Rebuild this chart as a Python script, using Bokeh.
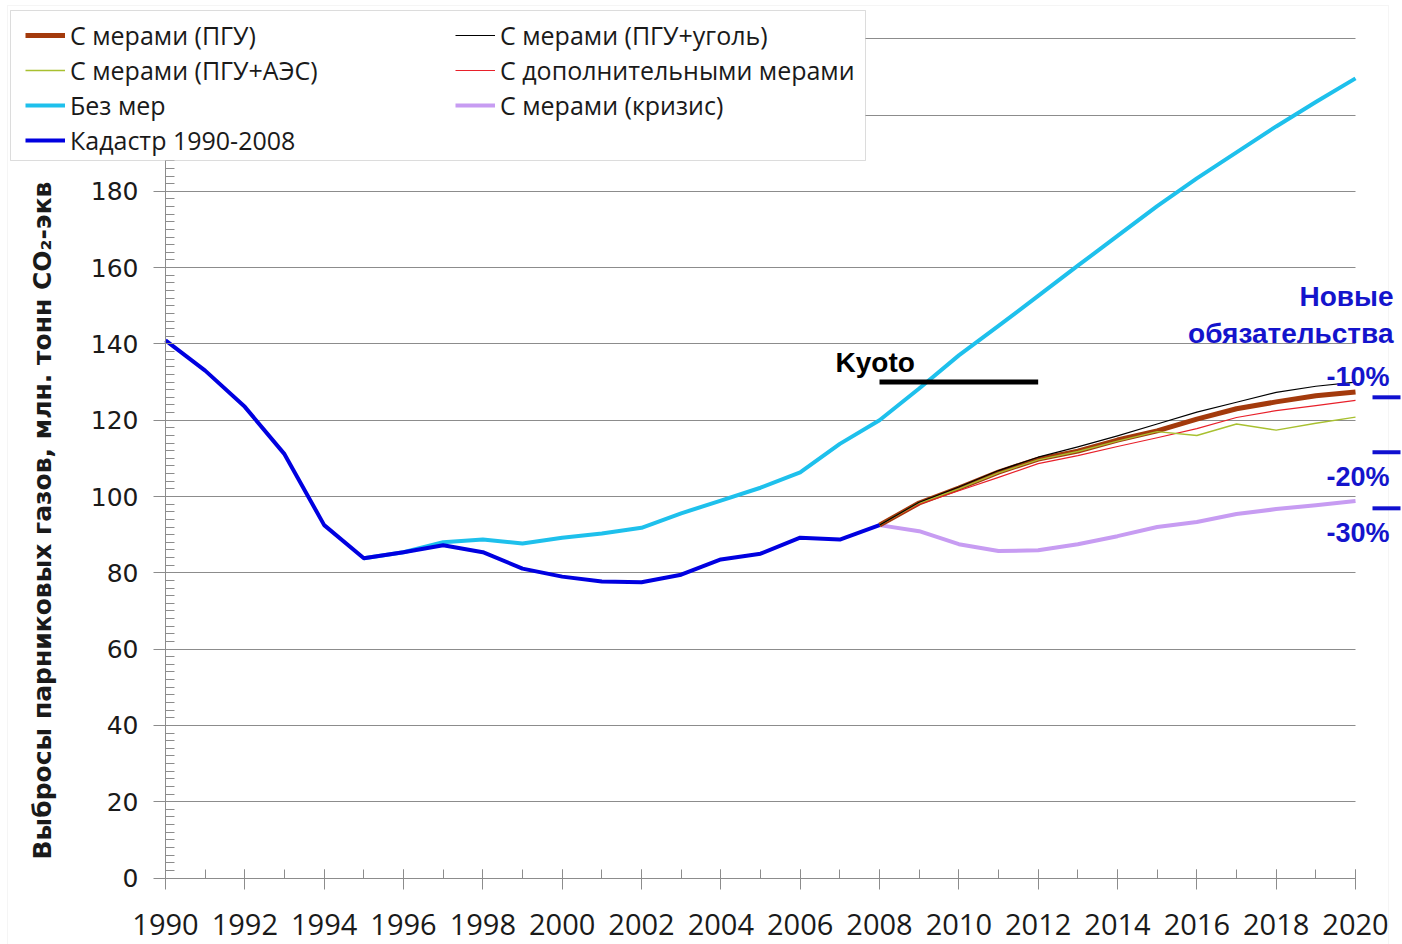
import math
from bokeh.plotting import figure
from bokeh.models import (Range1d, Legend, LegendItem, Label, BoxAnnotation,
                          SingleIntervalTicker)
from bokeh.embed import file_html
from bokeh.resources import INLINE

# ---------------- data ----------------
years_hist = list(range(1990, 2009))
cadastre = [140.9, 133.0, 123.5, 111.1, 92.5, 83.8, 85.4, 87.2, 85.4, 81.1,
            79.0, 77.7, 77.5, 79.5, 83.5, 85.0, 89.2, 88.7, 92.5]

years_no = list(range(1995, 2021))
no_measures = [83.8, 85.4, 88.0, 88.7, 87.7, 89.2, 90.3, 91.8, 95.6, 98.9,
               102.3, 106.3, 113.8, 120.0, 128.3, 137.0, 144.7, 152.6, 160.5,
               168.3, 176.1, 183.4, 190.2, 197.0, 203.4, 209.6]

years_proj = list(range(2008, 2021))
pgu = [92.5, 98.3, 102.2, 106.4, 109.8, 111.9, 114.8, 117.2, 120.3, 123.0,
       124.8, 126.4, 127.4]
pgu_coal = [92.5, 98.5, 102.5, 106.8, 110.3, 113.0, 115.9, 119.0, 122.1,
            124.7, 127.3, 128.9, 130.0]
pgu_nuclear = [92.5, 98.3, 102.0, 106.2, 109.6, 111.8, 114.5, 117.0, 116.0,
               119.0, 117.4, 119.2, 120.8]
additional = [92.5, 98.0, 101.5, 105.0, 108.6, 110.7, 113.1, 115.4, 117.8,
              120.7, 122.5, 123.8, 125.2]
crisis = [92.5, 90.9, 87.5, 85.7, 85.9, 87.5, 89.6, 92.0, 93.3, 95.4, 96.7,
          97.7, 98.8]

kyoto_years = [2008, 2012]
kyoto_level = [130.0, 130.0]

target_labels = ["-10%", "-20%", "-30%"]
target_levels = [126.0, 111.6, 96.9]

labels = {
    "pgu": "С мерами (ПГУ)",
    "coal": "С мерами (ПГУ+уголь)",
    "nuc": "С мерами (ПГУ+АЭС)",
    "add": "С дополнительными мерами",
    "no": "Без мер",
    "crisis": "С мерами (кризис)",
    "cad": "Кадастр 1990-2008",
}
y_title = "Выбросы парниковых газов, млн. тонн CO₂-экв"

# ---------------- figure ----------------
GRID = "#8c8c8c"
BLUE_TXT = "#1414CC"
W, H = 1402, 944
PX_YR = 39.667      # px per year
PX_UNIT = 3.815     # px per Mt
X0_PX, Y0_PX = 165, 877.5   # screen position of (1990, 0)

def xd(px):
    return 1990 + (px - X0_PX) / PX_YR

def yd(py):
    return (Y0_PX - py) / PX_UNIT

p = figure(width=W, height=H,
           x_range=Range1d(xd(0), xd(W)), y_range=Range1d(yd(H), yd(0)),
           output_backend="svg", toolbar_location=None,
           min_border_left=0, min_border_right=0,
           min_border_top=0, min_border_bottom=0)
p.outline_line_color = None
p.background_fill_color = "white"

# faint chart-area border
p.add_layout(BoxAnnotation(left=xd(7), right=xd(1388), top=yd(5),
                           bottom=yd(990), fill_alpha=0.0,
                           line_color="#dedede", line_width=1,
                           level="underlay"))

xt = SingleIntervalTicker(interval=2, num_minor_ticks=2)
yt = SingleIntervalTicker(interval=20, num_minor_ticks=10)
p.xaxis.ticker = xt
p.yaxis.ticker = yt
p.xaxis.bounds = (1990, 2020)
p.yaxis.bounds = (0, 220)
p.xaxis.fixed_location = 0
p.yaxis.fixed_location = 1990

for ax in (p.xaxis[0], p.yaxis[0]):
    ax.axis_line_color = GRID
    ax.major_tick_line_color = GRID
    ax.minor_tick_line_color = GRID
    ax.major_label_text_color = "#1a1a1a"

p.xaxis.major_tick_in = 9
p.xaxis.major_tick_out = 11
p.xaxis.minor_tick_in = 9
p.xaxis.minor_tick_out = 0
p.xaxis.major_label_text_font = "Open Sans"
p.xaxis.major_label_text_font_size = "29px"
p.xaxis.major_label_standoff = 25

p.yaxis.major_tick_in = 0
p.yaxis.major_tick_out = 12
p.yaxis.minor_tick_in = 9
p.yaxis.minor_tick_out = 0
p.yaxis.major_label_text_font = "DejaVu Sans"
p.yaxis.major_label_text_font_size = "25px"
p.yaxis.major_label_standoff = 15
p.yaxis.major_label_overrides = {200: "", 220: ""}

p.xgrid.visible = False
p.ygrid.ticker = yt
p.ygrid.bounds = (0, 220)
p.ygrid.grid_line_color = GRID
p.ygrid.grid_line_width = 1
if "cross_bounds" in p.ygrid.properties():
    p.ygrid.cross_bounds = (1990, 2020)
else:
    p.ygrid.visible = False
    gv = list(range(20, 221, 20))
    p.segment(x0=[1990] * len(gv), x1=[2020] * len(gv), y0=gv, y1=gv,
              line_color=GRID, line_width=1)

# ---------------- series ----------------
r_no = p.line(years_no, no_measures, line_color="#1EC0EC", line_width=4,
              line_join="round")
r_crisis = p.line(years_proj, crisis, line_color="#C79CF2", line_width=4,
                  line_join="round")
r_pgu = p.line(years_proj, pgu, line_color="#A33A0C", line_width=5,
               line_join="round")
r_add = p.line(years_proj, additional, line_color="#E8202A", line_width=1.2,
               line_join="round")
r_nuc = p.line(years_proj, pgu_nuclear, line_color="#A8C030", line_width=1.4,
               line_join="round")
r_coal = p.line(years_proj, pgu_coal, line_color="#000000", line_width=1.2,
                line_join="round")
r_cad = p.line(years_hist, cadastre, line_color="#0000E0", line_width=4,
               line_join="round")

# Kyoto
p.line(kyoto_years, kyoto_level, line_color="black", line_width=5)
p.add_layout(Label(x=xd(835), y=yd(362), text="Kyoto", text_align="left",
                   text_baseline="alphabetic", text_font="Liberation Sans",
                   text_font_style="bold", text_font_size="28px",
                   text_color="black"))

# New commitments
n = len(target_levels)
p.segment(x0=[xd(1372)] * n, x1=[xd(1400)] * n, y0=target_levels,
          y1=target_levels, line_color="#1010D0", line_width=4)
offsets = [20, -25, -25]
for lab, lev, off in zip(target_labels, target_levels, offsets):
    p.add_layout(Label(x=xd(1389), y=lev, y_offset=off, text=lab,
                       text_align="right", text_baseline="alphabetic",
                       text_font="Liberation Sans", text_font_style="bold",
                       text_font_size="27px", text_color=BLUE_TXT))
p.add_layout(Label(x=xd(1393), y=yd(296.4), text="Новые", text_align="right",
                   text_baseline="alphabetic", text_font="Liberation Sans",
                   text_font_style="bold", text_font_size="28px",
                   text_color=BLUE_TXT))
p.add_layout(Label(x=xd(1393), y=yd(332.5), text="обязательства",
                   text_align="right", text_baseline="alphabetic",
                   text_font="Liberation Sans", text_font_style="bold",
                   text_font_size="28px", text_color=BLUE_TXT))

# Y title
p.add_layout(Label(x=xd(42), y=yd(520), text=y_title, angle=math.pi / 2,
                   text_align="center", text_baseline="middle",
                   text_font="DejaVu Sans", text_font_style="bold",
                   text_font_size="25px", text_color="#1a1a1a"))

# ---------------- legend ----------------
p.add_layout(BoxAnnotation(left=xd(10), right=xd(865), top=yd(10),
                           bottom=yd(160), fill_color="white", fill_alpha=1.0,
                           line_color=GRID, line_width=1))

common = dict(label_text_font="Open Sans", label_text_font_size="25px",
              label_text_color="#1a1a1a", glyph_width=40, glyph_height=34,
              label_height=34, label_standoff=5, spacing=1, padding=0,
              margin=0, border_line_alpha=0, background_fill_alpha=0.0)
leg1 = Legend(items=[LegendItem(label=labels["pgu"], renderers=[r_pgu]),
                     LegendItem(label=labels["nuc"], renderers=[r_nuc]),
                     LegendItem(label=labels["no"], renderers=[r_no]),
                     LegendItem(label=labels["cad"], renderers=[r_cad])],
              location=(25, H - 157), **common)
leg2 = Legend(items=[LegendItem(label=labels["coal"], renderers=[r_coal]),
                     LegendItem(label=labels["add"], renderers=[r_add]),
                     LegendItem(label=labels["crisis"], renderers=[r_crisis])],
              location=(455, H - 122), **common)
p.add_layout(leg1)
p.add_layout(leg2)

open("out.html", "w").write(file_html(p, INLINE))
